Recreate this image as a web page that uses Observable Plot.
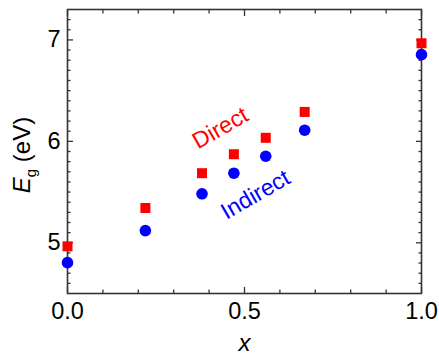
<!DOCTYPE html>
<html><head><meta charset="utf-8">
<script src="https://cdn.jsdelivr.net/npm/d3@7"></script>
<script src="https://cdn.jsdelivr.net/npm/@observablehq/plot@0.6"></script>
<style>body{margin:0;background:#fff} svg{font-family:"Liberation Sans",Arial,sans-serif}</style>
</head><body><div id="chart"></div>
<script>
const xValues = [0, 0.22, 0.38, 0.47, 0.56, 0.67, 1.0];
const directValues = [4.965, 5.343, 5.686, 5.873, 6.035, 6.29, 6.967];
const indirectValues = [4.804, 5.12, 5.483, 5.686, 5.853, 6.11, 6.855];
const xTicks = [0, 0.5, 1.0];
const yTicks = [5, 6, 7];
const xMinorTicks = [0.1, 0.2, 0.3, 0.4, 0.6, 0.7, 0.8, 0.9];
const yMinorTicks = [4.6, 4.7, 4.8, 4.9, 5.1, 5.2, 5.3, 5.4, 5.5, 5.6, 5.7, 5.8, 5.9, 6.1, 6.2, 6.3, 6.4, 6.5, 6.6, 6.7, 6.8, 6.9, 7.1, 7.2];
const labelText = ["Direct", "Indirect"];
const labelX = [0.432, 0.531];
const labelY = [6.13, 5.474];
const labelColor = ["#ff0000", "#0000ff"];

const pts = xValues.map((x, i) => ({x, direct: directValues[i], indirect: indirectValues[i]}));
const labels = labelText.map((t, i) => ({t, x: labelX[i], y: labelY[i], c: labelColor[i]}));
const axisColor = "#333";
const none = () => "";

const plot = Plot.plot({
  width: 439, height: 362,
  marginLeft: 67, marginRight: 18, marginTop: 9, marginBottom: 69,
  x: {domain: [0, 1]},
  y: {domain: [4.5, 7.3]},
  style: {fontFamily: "Liberation Sans, Arial, sans-serif", fontSize: "23px", color: "#000", background: "#fff"},
  marks: [
    Plot.axisX(xTicks, {anchor: "bottom", tickSize: -6, tickFormat: none, label: null, stroke: axisColor, strokeWidth: 1.3}),
    Plot.axisX(xMinorTicks, {anchor: "bottom", tickSize: -3.5, tickFormat: none, label: null, stroke: axisColor, strokeWidth: 1.3}),
    Plot.axisX(xTicks, {anchor: "top", tickSize: -6, tickFormat: none, label: null, stroke: axisColor, strokeWidth: 1.3}),
    Plot.axisX(xMinorTicks, {anchor: "top", tickSize: -3.5, tickFormat: none, label: null, stroke: axisColor, strokeWidth: 1.3}),
    Plot.axisY(yTicks, {anchor: "left", tickSize: -6, tickFormat: none, label: null, stroke: axisColor, strokeWidth: 1.3}),
    Plot.axisY(yMinorTicks, {anchor: "left", tickSize: -3.5, tickFormat: none, label: null, stroke: axisColor, strokeWidth: 1.3}),
    Plot.axisY(yTicks, {anchor: "right", tickSize: -6, tickFormat: none, label: null, stroke: axisColor, strokeWidth: 1.3}),
    Plot.axisY(yMinorTicks, {anchor: "right", tickSize: -3.5, tickFormat: none, label: null, stroke: axisColor, strokeWidth: 1.3}),
    Plot.axisX(xTicks, {anchor: "bottom", tickSize: 0, tickPadding: 9, tickFormat: d3.format(".1f"), label: null, fontSize: 23.5, fill: "#000"}),
    Plot.axisY(yTicks, {anchor: "left", tickSize: 0, tickPadding: 7, tickFormat: d3.format("d"), label: null, fontSize: 23.5, fill: "#000"}),
    Plot.frame({stroke: axisColor, strokeWidth: 1.6}),
    Plot.dot(pts, {x: "x", y: "direct", symbol: "square", r: 5.64, fill: "#ff0000", stroke: "none"}),
    Plot.dot(pts, {x: "x", y: "indirect", symbol: "circle", r: 5.8, fill: "#0000ff", stroke: "none"}),
    Plot.text(labels, {x: "x", y: "y", text: "t", fill: "c", rotate: -30, fontSize: 23}),
    Plot.text(["x"], {text: d => d, frameAnchor: "bottom", dy: 57, fontStyle: "italic", fontSize: 24, fill: "#000"})
  ]
});

const svg = d3.select(plot);
const yl = svg.append("text")
  .attr("transform", "translate(30,155) rotate(-90)")
  .attr("text-anchor", "middle")
  .attr("font-size", 24)
  .attr("fill", "#000");
yl.append("tspan").attr("font-style", "italic").text("E");
yl.append("tspan").attr("font-size", 15).attr("dy", 6).text("g");
yl.append("tspan").attr("dy", -6).text(" (eV)");

document.getElementById("chart").appendChild(plot);
</script>
</body></html>
